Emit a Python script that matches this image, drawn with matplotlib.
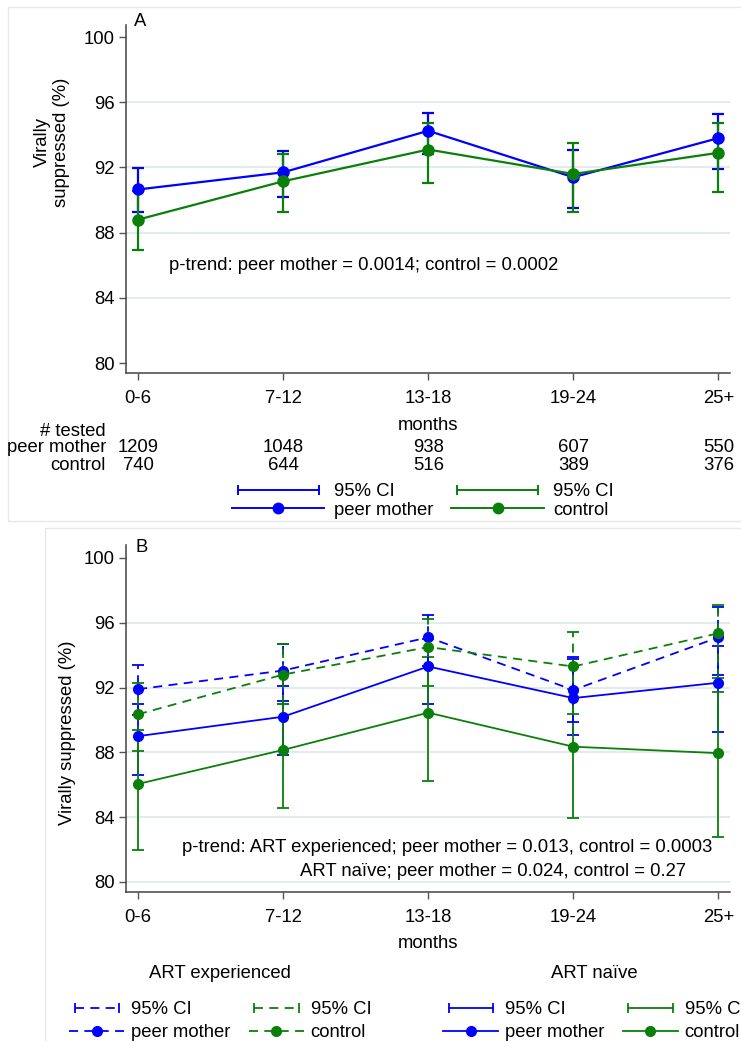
import matplotlib.pyplot as plt
from matplotlib.lines import Line2D
from matplotlib.legend_handler import HandlerLine2D
from matplotlib.patches import Rectangle
from matplotlib.transforms import blended_transform_factory

plt.rcParams['font.family'] = ['Liberation Sans', 'DejaVu Sans']

# ---- data ----
months = ['0-6', '7-12', '13-18', '19-24', '25+']

# panel A
peer_a = [90.65, 91.7, 94.25, 91.4, 93.8]
peer_a_lo = [89.25, 90.2, 92.85, 89.5, 91.9]
peer_a_hi = [91.95, 93.0, 95.35, 93.05, 95.3]
ctrl_a = [88.8, 91.15, 93.1, 91.6, 92.9]
ctrl_a_lo = [86.95, 89.25, 91.05, 89.25, 90.5]
ctrl_a_hi = [90.55, 92.8, 94.7, 93.5, 94.75]
n_peer = [1209, 1048, 938, 607, 550]
n_ctrl = [740, 644, 516, 389, 376]

# panel B: ART experienced
peer_exp = [91.9, 93.05, 95.1, 91.85, 95.1]
peer_exp_lo = [90.3, 91.2, 93.3, 89.9, 92.8]
peer_exp_hi = [93.4, 94.7, 96.5, 93.9, 96.95]
ctrl_exp = [90.35, 92.8, 94.5, 93.3, 95.35]
ctrl_exp_lo = [88.1, 91.0, 92.1, 90.35, 92.6]
ctrl_exp_hi = [92.3, 94.7, 96.25, 95.4, 97.1]
# panel B: ART naive
peer_nai = [89.0, 90.2, 93.3, 91.35, 92.3]
peer_nai_lo = [86.6, 87.85, 91.0, 89.1, 89.25]
peer_nai_hi = [91.0, 92.1, 95.0, 93.75, 94.55]
ctrl_nai = [86.05, 88.15, 90.45, 88.35, 87.95]
ctrl_nai_lo = [82.0, 84.55, 86.25, 83.95, 82.75]
ctrl_nai_hi = [89.4, 91.0, 93.9, 91.9, 91.7]

BLUE = '#0000ff'
GREEN = '#0a800a'
GRID = '#e3ebee'
FS = 13.3
DASH = (0, (5, 3.5))

W, H = 741, 1041
fig = plt.figure(figsize=(W / 100, H / 100), dpi=100)


def fx(px):
    return px / W


def fy(py):
    return 1 - py / H


# light panel frames
fig.add_artist(Rectangle((fx(8), fy(521)), fx(770) - fx(8), fy(7) - fy(521),
                         transform=fig.transFigure, fill=False, ec='#e8e8e8', lw=1))
fig.add_artist(Rectangle((fx(45), fy(1070)), fx(770) - fx(45), fy(528) - fy(1070),
                         transform=fig.transFigure, fill=False, ec='#e8e8e8', lw=1))


def style_axes(ax, ylim, grid_vals):
    ax.set_xlim(-0.083, 4.08)
    ax.set_ylim(*ylim)
    for s in ['top', 'right']:
        ax.spines[s].set_visible(False)
    for s in ['left', 'bottom']:
        ax.spines[s].set_color('#444444')
        ax.spines[s].set_linewidth(1.1)
    ax.set_yticks(range(80, 101, 4))
    ax.set_xticks(range(len(months)))
    ax.set_xticklabels(months)
    ax.tick_params(axis='both', labelsize=FS, length=5, color='#555555', width=1)
    ax.tick_params(axis='y', pad=3)
    ax.tick_params(axis='x', pad=7)
    for g in grid_vals:
        ax.axhline(g, color=GRID, lw=1.4, zorder=0)


def series(ax, y, lo, hi, color, dashed=False, lw=1.3, ms=7.5):
    x = list(range(len(y)))
    err = [[v - l for v, l in zip(y, lo)], [h - v for v, h in zip(y, hi)]]
    ls = DASH if dashed else '-'
    line, caps, bars = ax.errorbar(x, y, yerr=err, color=color, ls=ls, lw=lw,
                                   marker='o', ms=ms, capsize=4, capthick=lw,
                                   elinewidth=lw)
    if dashed:
        bars[0].set_linestyle(DASH)
    return line


# ---------------- panel A ----------------
axA = fig.add_axes([fx(126), fy(373), fx(730) - fx(126), fy(25) - fy(373)])
style_axes(axA, (79.39, 100.74), [84, 88, 92, 96])
series(axA, peer_a, peer_a_lo, peer_a_hi, BLUE, lw=1.6, ms=8)
series(axA, ctrl_a, ctrl_a_lo, ctrl_a_hi, GREEN, lw=1.6, ms=8)

axA.set_ylabel('Virally\nsuppressed (%)', fontsize=FS, va='center', linespacing=1.15)
axA.yaxis.set_label_coords((52 - 126) / 604, (373 - 142) / 348)
axA.set_xlabel('months', fontsize=FS, va='center')
axA.xaxis.set_label_coords(0.5, (373 - 426) / 348)

fig.text(fx(140), fy(22), 'A', fontsize=FS, ha='center', va='center')
fig.text(fx(169), fy(266), 'p-trend: peer mother = 0.0014; control = 0.0002',
         fontsize=FS, ha='left', va='center')

tr = blended_transform_factory(axA.transData, fig.transFigure)
fig.text(fx(106), fy(431), '# tested', fontsize=FS, ha='right', va='center')
fig.text(fx(106), fy(448), 'peer mother', fontsize=FS, ha='right', va='center')
fig.text(fx(106), fy(466), 'control', fontsize=FS, ha='right', va='center')
for i, (a, b) in enumerate(zip(n_peer, n_ctrl)):
    axA.text(i, fy(448), str(a), fontsize=FS, ha='center', va='center', transform=tr)
    axA.text(i, fy(466), str(b), fontsize=FS, ha='center', va='center', transform=tr)

ciA_b = Line2D([], [], color=BLUE, lw=1.4, marker='|', ms=7, mew=1.4)
ciA_g = Line2D([], [], color=GREEN, lw=1.4, marker='|', ms=7, mew=1.4)
pmA = Line2D([], [], color=BLUE, lw=1.4, marker='o', ms=7.5)
ctA = Line2D([], [], color=GREEN, lw=1.4, marker='o', ms=7.5)
fig.legend([ciA_b, pmA, ciA_g, ctA], ['95% CI', 'peer mother', '95% CI', 'control'],
           ncol=2, loc='center left', bbox_to_anchor=(fx(232), fy(501)),
           frameon=False, fontsize=FS, handlelength=5.0, handletextpad=0.5,
           columnspacing=1.0, labelspacing=0.1, borderpad=0, borderaxespad=0,
           handler_map={ciA_b: HandlerLine2D(numpoints=2),
                        ciA_g: HandlerLine2D(numpoints=2)})

# ---------------- panel B ----------------
axB = fig.add_axes([fx(126), fy(892), fx(730) - fx(126), fy(545) - fy(892)])
style_axes(axB, (79.38, 100.8), [80, 84, 88, 92, 96])
series(axB, peer_nai, peer_nai_lo, peer_nai_hi, BLUE, ms=7)
series(axB, ctrl_nai, ctrl_nai_lo, ctrl_nai_hi, GREEN, ms=7)
series(axB, peer_exp, peer_exp_lo, peer_exp_hi, BLUE, dashed=True, ms=7)
series(axB, ctrl_exp, ctrl_exp_lo, ctrl_exp_hi, GREEN, dashed=True, ms=7)

axB.set_ylabel('Virally suppressed (%)', fontsize=FS, va='center')
axB.yaxis.set_label_coords((67 - 126) / 604, 0.46)
axB.set_xlabel('months', fontsize=FS, va='center')
axB.xaxis.set_label_coords(0.5, (892 - 944) / 347)

fig.text(fx(142), fy(547), 'B', fontsize=FS, ha='center', va='center')
fig.text(fx(182), fy(848),
         'p-trend: ART experienced; peer mother = 0.013, control = 0.0003',
         fontsize=FS, ha='left', va='center')
fig.text(fx(300), fy(871), 'ART naïve; peer mother = 0.024, control = 0.27',
         fontsize=FS, ha='left', va='center')


def legend_b(dashed, x0, title):
    ls = DASH if dashed else '-'
    ci_b = Line2D([], [], color=BLUE, lw=1.3, ls=ls, marker='|', ms=7, mew=1.3)
    ci_g = Line2D([], [], color=GREEN, lw=1.3, ls=ls, marker='|', ms=7, mew=1.3)
    pm = Line2D([], [], color=BLUE, lw=1.3, ls=ls, marker='o', ms=7)
    ct = Line2D([], [], color=GREEN, lw=1.3, ls=ls, marker='o', ms=7)
    leg = fig.legend([ci_b, pm, ci_g, ct], ['95% CI', 'peer mother', '95% CI', 'control'],
                     ncol=2, loc='upper left', bbox_to_anchor=(fx(x0), fy(965)),
                     frameon=False, fontsize=FS, title=title, title_fontsize=FS,
                     handlelength=3.0, handletextpad=0.35, columnspacing=1.0,
                     labelspacing=0.3, borderpad=0, borderaxespad=0,
                     handler_map={ci_b: HandlerLine2D(numpoints=2),
                                  ci_g: HandlerLine2D(numpoints=2)})
    leg._legend_box.sep = 14
    return leg


legend_b(True, 69, 'ART experienced')
legend_b(False, 443, 'ART naïve')

fig.savefig('out.png', dpi=100)
